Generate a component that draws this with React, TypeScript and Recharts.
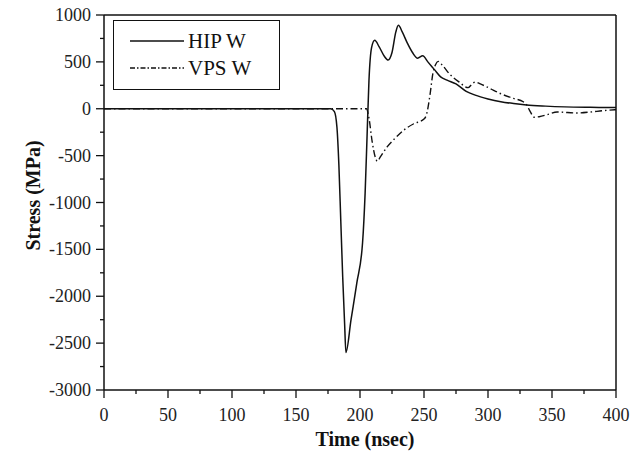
import { LineChart, Line, XAxis, YAxis } from "recharts";

// time (nsec) / stress (MPa)
const hipTime = [0, 100, 170, 177, 180, 182, 183.5, 185, 186.5, 188, 189, 193, 197.5, 202, 204, 205.5, 207, 209, 211.5, 215, 219, 222, 225, 228, 230, 233, 237, 241, 245, 249, 253, 258, 263, 268, 275, 283, 290, 300, 310, 320, 330, 345, 360, 380, 400];
const hipStress = [0, 0, 0, 0, -30, -200, -600, -1200, -1800, -2300, -2600, -2250, -1860, -1430, -900, -300, 300, 650, 730, 660, 560, 520, 600, 820, 890, 820, 700, 600, 540, 565, 500, 420, 340, 305, 265, 185, 145, 105, 75, 55, 40, 28, 20, 15, 12];

const vpsTime = [0, 100, 205, 207, 209.5, 212, 213.5, 216, 221, 227, 234, 242, 250, 252, 254.5, 257, 259, 261, 264, 270, 277, 284.5, 287, 290, 294, 301, 310, 320, 327.5, 330, 333, 336, 340, 347, 354, 362, 370, 380, 390, 400];
const vpsStress = [0, 0, 0, -100, -350, -520, -560, -510, -410, -320, -230, -160, -110, -60, 130, 380, 470, 505, 470, 370, 290, 225, 255, 285, 265, 220, 160, 110, 75, 45, -30, -90, -85, -60, -35, -40, -45, -35, -20, -10];

const xTicks = [0, 25, 50, 75, 100, 125, 150, 175, 200, 225, 250, 275, 300, 325, 350, 375, 400];
const yTicks = [-3000, -2750, -2500, -2250, -2000, -1750, -1500, -1250, -1000, -750, -500, -250, 0, 250, 500, 750, 1000];

const hipData = hipTime.map((t, i) => ({ t, s: hipStress[i] }));
const vpsData = vpsTime.map((t, i) => ({ t, s: vpsStress[i] }));

const FONT = '"Liberation Serif", "Times New Roman", serif';
const DASHDOT = "7 3 1.5 3";
const tickText = { fontFamily: FONT, fontSize: 18, fill: "#222" };
const titleText = { fontFamily: FONT, fontSize: 20, fontWeight: "bold" as const, fill: "#111" };

const BottomTick = ({ x, y, payload }: any) => {
  const major = payload.value % 50 === 0;
  return (
    <g>
      <line x1={x} x2={x} y1={y} y2={y + (major ? 8 : 4)} stroke="#111" strokeWidth={1.3} />
      {major && (
        <text x={x} y={y + 31} textAnchor="middle" style={tickText}>
          {payload.value}
        </text>
      )}
    </g>
  );
};

const TopTick = ({ x, y, payload }: any) => {
  const major = payload.value % 50 === 0;
  return <line x1={x} x2={x} y1={y} y2={y - (major ? 8 : 4)} stroke="#111" strokeWidth={1.3} />;
};

const LeftTick = ({ x, y, payload }: any) => {
  const major = payload.value % 500 === 0;
  return (
    <g>
      <line x1={x} x2={x - (major ? 8 : 4)} y1={y} y2={y} stroke="#111" strokeWidth={1.3} />
      {major && (
        <text x={x - 13} y={y + 6} textAnchor="end" style={tickText}>
          {payload.value}
        </text>
      )}
    </g>
  );
};

const RightTick = ({ x, y, payload }: any) => {
  const major = payload.value % 500 === 0;
  return <line x1={x} x2={x + (major ? 8 : 4)} y1={y} y2={y} stroke="#111" strokeWidth={1.3} />;
};

const XTitle = ({ viewBox }: any) => (
  <text x={viewBox.x + viewBox.width / 2 + 5} y={viewBox.y + 56} textAnchor="middle" style={titleText}>
    Time (nsec)
  </text>
);

const YTitle = ({ viewBox }: any) => {
  const cx = 40;
  const cy = viewBox.y + viewBox.height / 2 - 7;
  return (
    <text x={cx} y={cy} transform={`rotate(-90, ${cx}, ${cy})`} textAnchor="middle" style={titleText}>
      Stress (MPa)
    </text>
  );
};

const legendItems = [
  { name: "HIP W", dash: undefined as string | undefined },
  { name: "VPS W", dash: "5 2 1.5 2" },
];

export default function App() {
  return (
    <div style={{ position: "relative", width: 641, height: 456, background: "#fff" }}>
      <style>{"body{margin:0}"}</style>
      <LineChart width={641} height={456} margin={{ top: 5, right: 15, bottom: 36, left: 34 }}>
        <XAxis
          xAxisId="b"
          dataKey="t"
          type="number"
          domain={[0, 400]}
          ticks={xTicks}
          interval={0}
          height={30}
          tickSize={0}
          tickMargin={0}
          tick={<BottomTick />}
          axisLine={{ stroke: "#111", strokeWidth: 1.5 }}
          allowDataOverflow
          label={<XTitle />}
        />
        <XAxis
          xAxisId="t"
          orientation="top"
          dataKey="t"
          type="number"
          domain={[0, 400]}
          ticks={xTicks}
          interval={0}
          height={10}
          tickSize={0}
          tickMargin={0}
          tick={<TopTick />}
          axisLine={{ stroke: "#111", strokeWidth: 1.5 }}
        />
        <YAxis
          yAxisId="l"
          type="number"
          domain={[-3000, 1000]}
          ticks={yTicks}
          interval={0}
          width={70}
          tickSize={0}
          tickMargin={0}
          tick={<LeftTick />}
          axisLine={{ stroke: "#111", strokeWidth: 1.5 }}
          allowDataOverflow
          label={<YTitle />}
        />
        <YAxis
          yAxisId="r"
          orientation="right"
          type="number"
          domain={[-3000, 1000]}
          ticks={yTicks}
          interval={0}
          width={10}
          tickSize={0}
          tickMargin={0}
          tick={<RightTick />}
          axisLine={{ stroke: "#111", strokeWidth: 1.5 }}
        />
        <Line
          xAxisId="b"
          yAxisId="l"
          data={vpsData}
          dataKey="s"
          type="monotone"
          stroke="#111"
          strokeWidth={1.4}
          strokeDasharray={DASHDOT}
          dot={false}
          isAnimationActive={false}
        />
        <Line
          xAxisId="b"
          yAxisId="l"
          data={hipData}
          dataKey="s"
          type="monotone"
          stroke="#111"
          strokeWidth={1.5}
          dot={false}
          isAnimationActive={false}
        />
      </LineChart>
      <div
        style={{
          position: "absolute",
          left: 113,
          top: 20,
          width: 167,
          height: 70,
          boxSizing: "border-box",
          border: "1.5px solid #111",
          background: "#fff",
          fontFamily: FONT,
          fontSize: 21,
          color: "#111",
        }}
      >
        {legendItems.map((it, i) => (
          <div
            key={it.name}
            style={{ position: "absolute", left: 16, top: 8 + i * 27, display: "flex", alignItems: "center", lineHeight: "24px" }}
          >
            <svg width={55} height={10}>
              <line x1={0} x2={54} y1={5} y2={5} stroke="#111" strokeWidth={1.5} strokeDasharray={it.dash} />
            </svg>
            <span style={{ marginLeft: 3 }}>{it.name}</span>
          </div>
        ))}
      </div>
    </div>
  );
}
